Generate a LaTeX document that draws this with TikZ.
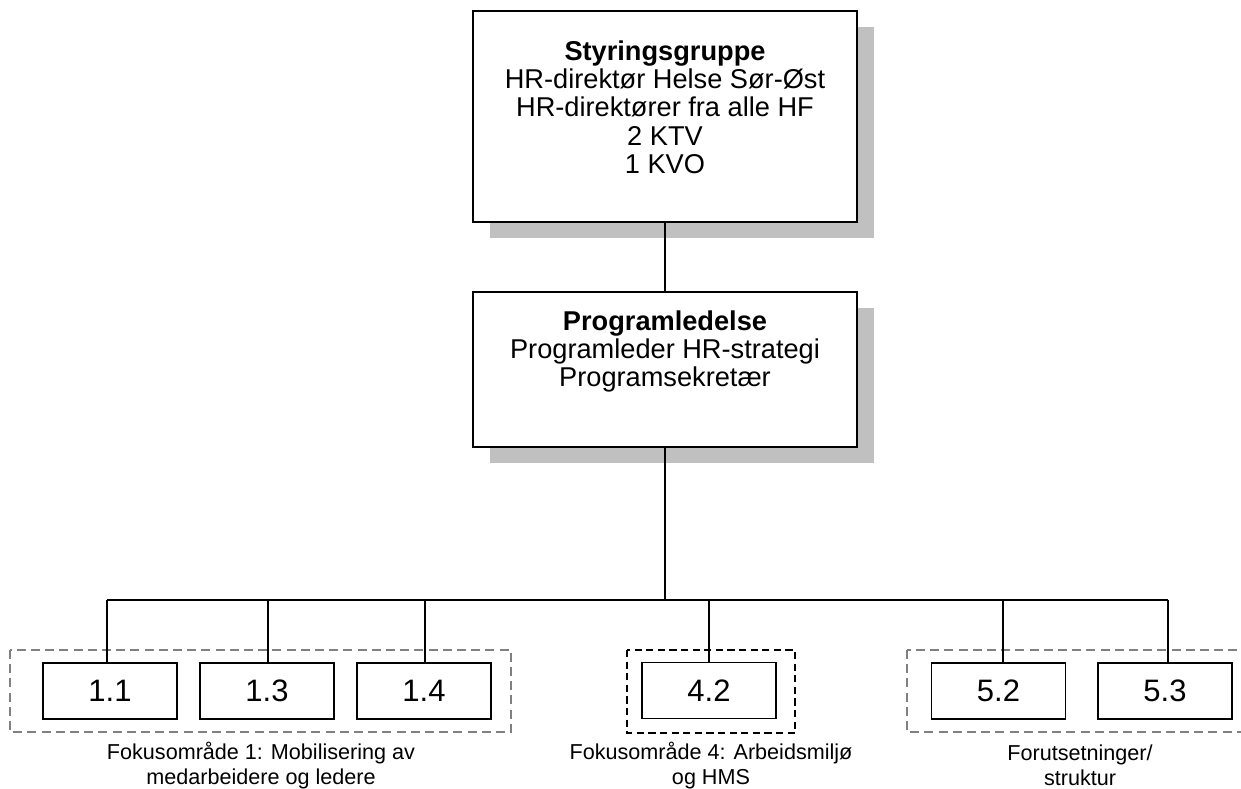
\documentclass[tikz,border=0pt]{standalone}
\usepackage{fontspec}
\setmainfont{Liberation Sans}
\usetikzlibrary{shadows}
\definecolor{shadowgray}{HTML}{C0C0C0}
\definecolor{dashgray}{HTML}{808080}
\begin{document}
\begin{tikzpicture}[x=0.5pt,y=-0.5pt,
  bigbox/.style={draw, line width=0.7pt, fill=white, minimum width=192pt, inner sep=0,
    drop shadow={shadow xshift=8.5pt, shadow yshift=-8pt, fill=shadowgray, opacity=1}},
  boxtext/.style={anchor=north, align=center, inner sep=0, font=\fontsize{13.6}{14.2}\selectfont},
  numbox/.style={draw, line width=0.7pt, fill=white, minimum width=67pt, minimum height=28pt, inner sep=0, font=\fontsize{15.5}{17}\selectfont},
  conn/.style={line width=0.7pt},
  grpgray/.style={draw=dashgray, line width=0.85pt, dash pattern=on 4.5pt off 2.6pt},
  grpblack/.style={draw=black, line width=0.75pt, dash pattern=on 3.6pt off 2.2pt},
  grplabel/.style={anchor=north, align=center, inner sep=0, font=\fontsize{10.8}{12.5}\selectfont}]
\useasboundingbox (0,0) rectangle (1241,788);

% top boxes
\node[bigbox, minimum height=105.5pt] (sty) at (665,116.5) {};
\node[boxtext] (styT) at (665,40) {\textbf{Styringsgruppe}\\HR-direktør Helse Sør-Øst\\HR-direktører fra alle HF\\2 KTV\\1 KVO};
\node[bigbox, minimum height=77.5pt] (prog) at (665,369.5) {};
\node[boxtext] (progT) at (665,310) {\textbf{Programledelse}\\Programleder HR-strategi\\Programsekretær};

% group frames
\draw[grpgray] (10,650) rectangle (511,732);
\draw[grpblack] (627,650) rectangle (795,733);
\draw[grpgray] (907,650) rectangle (1260,732);

% small boxes
\node[numbox] (b11) at (110,691) {1.1};
\node[numbox] (b13) at (267,691) {1.3};
\node[numbox] (b14) at (424,691) {1.4};
\node[numbox] (b42) at (709,690.5) {4.2};
\node[numbox] (b52) at (998.5,691) {5.2};
\node[numbox] (b53) at (1165,691) {5.3};

% connectors
\coordinate (jc) at (665,600);
\coordinate (j11) at (107,600);
\coordinate (j13) at (268,600);
\coordinate (j14) at (425,600);
\coordinate (j42) at (709,600);
\coordinate (j52) at (1003,600);
\coordinate (j53) at (1168,600);
\draw[conn] (sty.south) -- (prog.north);
\draw[conn] (prog.south) -- (jc);
\draw[conn] (j11) -- (j53);
\draw[conn] (j11) -- (j11 |- b11.north);
\draw[conn] (j13) -- (j13 |- b13.north);
\draw[conn] (j14) -- (j14 |- b14.north);
\draw[conn] (j42) -- (j42 |- b42.north);
\draw[conn] (j52) -- (j52 |- b52.north);
\draw[conn] (j53) -- (j53 |- b53.north);

% group labels
\node[grplabel] (l1) at (261,742) {Fokusområde 1: Mobilisering av\\medarbeidere og ledere};
\node[grplabel] (l4) at (711,742) {Fokusområde 4: Arbeidsmiljø\\og HMS};
\node[grplabel] (l5) at (1080,744) {Forutsetninger/\\struktur};
\end{tikzpicture}
\end{document}
